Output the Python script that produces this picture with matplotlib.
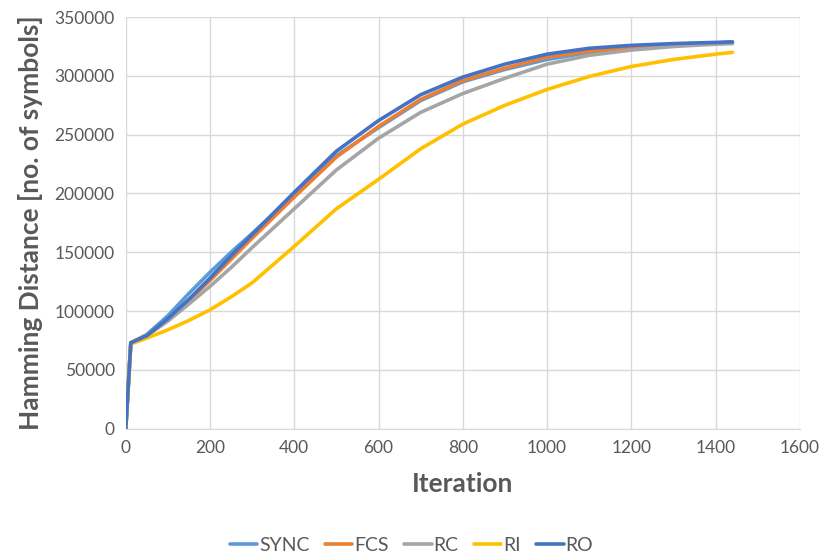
import matplotlib.pyplot as plt

# iteration points and Hamming distance
iters = [0, 12, 50, 100, 150, 200, 250, 300, 400, 500, 600, 700, 800, 900, 1000, 1100, 1200, 1300, 1400, 1440]

sync = [0, 73000, 80000, 96000, 115000, 133000, 150000, 166000, 199000, 232000, 256000,
        279000, 295000, 305500, 314000, 320000, 324000, 327000, 328000, 328500]
fcs = [0, 73000, 79000, 92500, 109000, 126000, 144000, 162000, 197000, 231000, 257000,
       280000, 296000, 306500, 316000, 321000, 324500, 326500, 327500, 328000]
rc = [0, 73000, 79000, 91500, 106000, 121000, 137000, 154000, 187000, 220000, 247000,
      269000, 285000, 298000, 310000, 317500, 322000, 325000, 327000, 327500]
ri = [0, 72000, 77000, 84000, 92000, 101000, 112000, 124000, 155000, 187000, 212000,
      238000, 259000, 275000, 288500, 299500, 308000, 314000, 318500, 320000]
ro = [0, 73000, 79000, 93500, 110000, 128000, 147000, 165000, 201000, 236000, 262000,
      284000, 299000, 310000, 318500, 323500, 326000, 327500, 328500, 329000]

series = [('SYNC', sync, '#5B9BD5'), ('FCS', fcs, '#ED7D31'), ('RC', rc, '#A5A5A5'),
          ('RI', ri, '#FFC000'), ('RO', ro, '#4472C4')]

plt.rcParams['font.family'] = ['Lato', 'DejaVu Sans']

fig = plt.figure(figsize=(8.22, 5.53), dpi=100)
ax = fig.add_axes([0.153, 0.225, 0.82, 0.744])

for name, vals, col in series:
    ax.plot(iters, vals, color=col, linewidth=2.6, label=name,
            solid_capstyle='round', solid_joinstyle='round')

ax.set_xlim(0, 1600)
ax.set_ylim(0, 350000)
ax.set_xticks(range(0, 1601, 200))
ax.set_yticks(range(0, 350001, 50000))
ax.grid(True, color='#D9D9D9', linewidth=1)
ax.set_axisbelow(True)
for s in ['top', 'right', 'left']:
    ax.spines[s].set_visible(False)
ax.spines['bottom'].set_color('#D9D9D9')
ax.tick_params(length=0, labelsize=12.5, labelcolor='#595959', pad=8)

ax.set_xlabel('Iteration', fontsize=19, fontweight='bold', color='#595959', labelpad=12)
ax.set_ylabel('Hamming Distance [no. of symbols]', fontsize=19, fontweight='bold',
              color='#595959', labelpad=8)

ax.legend(loc='upper center', bbox_to_anchor=(0.424, -0.22), ncol=5, frameon=False,
          fontsize=14, labelcolor='#595959', handlelength=1.4, handletextpad=0.1,
          columnspacing=0.8)

plt.savefig('out.png', dpi=100)
